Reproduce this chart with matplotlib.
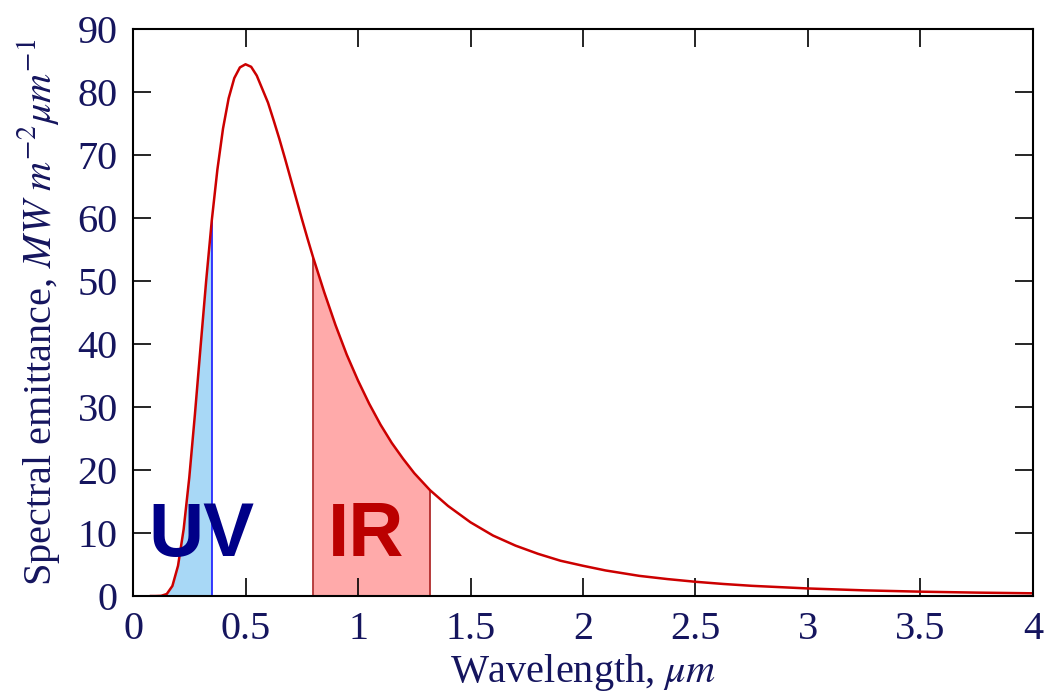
#!/usr/bin/env python3
"""
Spectral emittance of a black body (sun-like), with UV and IR bands shaded.
"""
import matplotlib
matplotlib.use('Agg')
import matplotlib.pyplot as plt
import numpy as np

# values
wavelength = [0.08, 0.10, 0.125, 0.15, 0.175, 0.20, 0.225, 0.25, 0.275, 0.30,
              0.325, 0.35, 0.375, 0.40, 0.425, 0.45, 0.475, 0.50, 0.525, 0.55,
              0.60, 0.625, 0.65, 0.675, 0.70, 0.725, 0.75, 0.775, 0.80, 0.85,
              0.90, 0.95, 1.00, 1.05, 1.10, 1.15, 1.20, 1.25, 1.32, 1.40,
              1.50, 1.60, 1.70, 1.80, 1.90, 2.00, 2.10, 2.25, 2.375, 2.50,
              2.625, 2.75, 3.00, 3.25, 3.50, 3.75, 4.00]
emittance = [0.0, 0.0, 0.03, 0.32, 1.6, 4.8, 10.6, 18.8, 28.8, 39.5,
             50.0, 59.6, 67.7, 74.2, 79.0, 82.2, 83.9, 84.4, 84.0, 82.6,
             78.3, 75.5, 72.6, 69.5, 66.3, 63.1, 59.9, 56.8, 53.8, 48.2,
             43.0, 38.3, 34.2, 30.5, 27.2, 24.3, 21.8, 19.5, 16.8, 14.3,
             11.7, 9.6, 8.0, 6.7, 5.6, 4.8, 4.06, 3.2, 2.69, 2.26,
             1.91, 1.62, 1.2, 0.9, 0.69, 0.54, 0.43]

uv_band = (0.08, 0.35)
ir_band = (0.80, 1.32)

x_ticks = [0, 0.5, 1, 1.5, 2, 2.5, 3, 3.5, 4]
x_tick_labels = ['0', '0.5', '1', '1.5', '2', '2.5', '3', '3.5', '4']
y_ticks = [0, 10, 20, 30, 40, 50, 60, 70, 80, 90]

plt.rcParams['font.family'] = ['Liberation Serif', 'DejaVu Serif']
plt.rcParams['mathtext.fontset'] = 'stix'

navy = '#15155e'

fig = plt.figure(figsize=(10.45, 6.92), dpi=100)
ax = fig.add_axes([0.1273, 0.1387, 0.8612, 0.8194])

wl = np.array(wavelength)
em = np.array(emittance)

uv = (wl >= uv_band[0]) & (wl <= uv_band[1])
ax.fill_between(wl[uv], 0, em[uv], color='#a8d8f6', lw=0)
ax.vlines(uv_band[1], 0, em[wl == uv_band[1]][0], color='#1a1aff', lw=1.2)

ir = (wl >= ir_band[0]) & (wl <= ir_band[1])
ax.fill_between(wl[ir], 0, em[ir], color='#ffaaaa', lw=0)
ax.vlines(ir_band, 0, [em[wl == ir_band[0]][0], em[wl == ir_band[1]][0]],
          color='#aa2222', lw=1.2)

ax.plot(wl, em, color='#cc0000', lw=1.8)

ax.text(0.07, 6.3, 'UV', color='#000088', fontsize=55, fontweight='bold',
        family='Liberation Sans', ha='left', va='baseline')
ax.text(0.865, 6.3, 'IR', color='#bb0000', fontsize=55, fontweight='bold',
        family='Liberation Sans', ha='left', va='baseline')

ax.set_xlim(0, 4)
ax.set_ylim(0, 90)
ax.set_xticks(x_ticks)
ax.set_xticklabels(x_tick_labels)
ax.set_yticks(y_ticks)
ax.tick_params(direction='in', length=13, width=1.2, top=True, right=True,
               labelsize=29, labelcolor=navy)
ax.tick_params(axis='x', pad=11)
ax.tick_params(axis='y', pad=11)
for s in ax.spines.values():
    s.set_linewidth(1.5)

ax.set_xlabel(r'Wavelength, $\mu m$', fontsize=29, color=navy, labelpad=3)
ax.set_ylabel(r'Spectral emittance, $MW\ m^{-2}\mu m^{-1}$', fontsize=29,
              color=navy, labelpad=11)

fig.savefig('out.png', dpi=100)
